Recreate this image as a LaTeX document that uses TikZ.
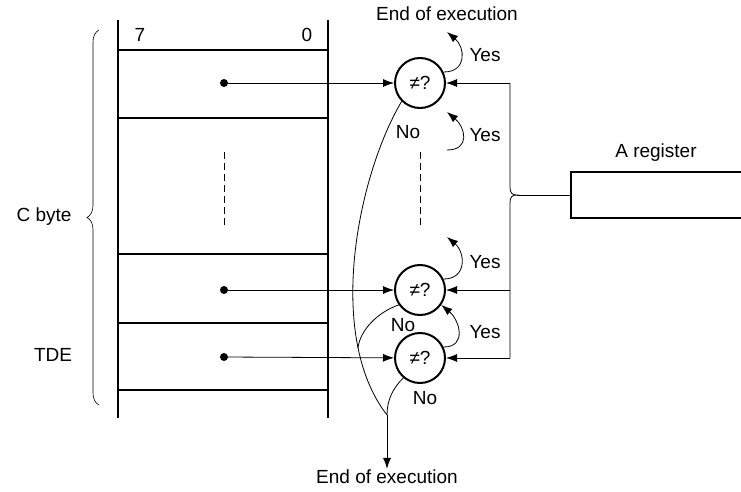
\documentclass[tikz,border=0pt]{standalone}
\usepackage{fontspec}
\setmainfont{Liberation Sans}
\usetikzlibrary{arrows.meta,decorations.pathreplacing}

\begin{document}
\begin{tikzpicture}[
  x=1pt, y=-1pt,
  font=\fontsize{19}{23}\selectfont,
  memline/.style={line width=2.2pt},
  cmp/.style={circle, draw, line width=2pt, minimum size=50pt, inner sep=0pt},
  dot/.style={circle, fill, minimum size=8pt, inner sep=0pt},
  regbox/.style={draw, line width=2pt, minimum width=174pt, minimum height=46pt, inner sep=0pt},
  arrow/.style={-{Latex[length=11pt,width=8pt]}, line width=0.8pt},
  wire/.style={line width=0.8pt},
  gap/.style={dash pattern=on 7pt off 4pt, line width=0.7pt},
  lbl/.style={inner sep=1pt}
]
\clip (0,0) rectangle (741,492);

% Memory area
\draw[memline] (118,20) -- (118,418);
\draw[memline] (328,20) -- (328,418);
\foreach \y in {50,118,254,323,390}
  \draw[memline] (118,\y) -- (328,\y);
\node[lbl] (b7) at (140,35) {7};
\node[lbl] (b0) at (307,35) {0};
\draw[gap] (224,152) -- (224,225);

% Byte brace
\draw[line width=0.6pt, decorate, decoration={brace, amplitude=12pt}] (99,405) -- (99,30);
\node[lbl] (cbyte) at (44,217) {C byte};
\node[lbl] (tde) at (53,355) {TDE};

% Data points
\node[dot] (d1) at (224,83) {};
\node[dot] (d2) at (224,290) {};
\node[dot] (d3) at (224,357) {};

% Comparators
\node[cmp] (c1) at (420,83) {≠?};
\node[cmp] (c2) at (420,290) {≠?};
\node[cmp] (c3) at (420,358) {≠?};
\draw[gap] (420,152) -- (420,225);

\draw[arrow] (d1) -- (c1);
\draw[arrow] (d2) -- (c2);
\draw[arrow] (d3) -- (c3);

% A register and its feed
\node[regbox] (reg) at (658,195) {};
\node[lbl] (regname) at (656,153) {A register};
\coordinate (f1) at (510,83);
\coordinate (f2) at (510,290);
\coordinate (f3) at (510,358);
\coordinate (tip) at (517,195);
\draw[wire] (f1) -- (510,187) .. controls (510,193) and (512,195) .. (tip)
  .. controls (512,195) and (510,197) .. (510,203) -- (f3);
\draw[wire] (tip) -- (reg.west);
\draw[arrow] (f1) -- (c1.east);
\draw[arrow] (f2) -- (c2.east);
\draw[arrow] (f3) -- (c3.east);

% Yes branches
\node[lbl] (endtop) at (447,14) {End of execution};
\coordinate (y1e) at (447,32);
\coordinate (y2s) at (447,150);
\coordinate (y2e) at (447,112);
\coordinate (y3e) at (447,237);
\draw[arrow] (c1.25) .. controls +(24,0) and +(18,15) .. (y1e);
\draw[arrow] (y2s) .. controls +(24,0) and +(18,15) .. (y2e);
\draw[arrow] (c2.25) .. controls +(24,0) and +(18,15) .. (y3e);
\draw[arrow] (c3.25) .. controls +(24,0) and +(18,15) .. (c2.-35);
\node[lbl] (yes1) at (485,55) {Yes};
\node[lbl] (yes2) at (485,135) {Yes};
\node[lbl] (yes3) at (485,262) {Yes};
\node[lbl] (yes4) at (485,332) {Yes};

% No branches
\coordinate (m) at (387,415);
\draw[wire] (c1.225) .. controls (358,175) and (325,335) .. (m);
\draw[wire] (c2.215) .. controls (378,312) and (360,330) .. (358,348);
\draw[wire] (c3.230) .. controls (393,388) and (387,400) .. (m);
\node[lbl] (no1) at (408,132) {No};
\node[lbl] (no2) at (403,325) {No};
\node[lbl] (no3) at (425,398) {No};
\node[lbl] (endbot) at (387,477) {End of execution};
\draw[arrow] (m) -- (m |- endbot.north);
\end{tikzpicture}
\end{document}
